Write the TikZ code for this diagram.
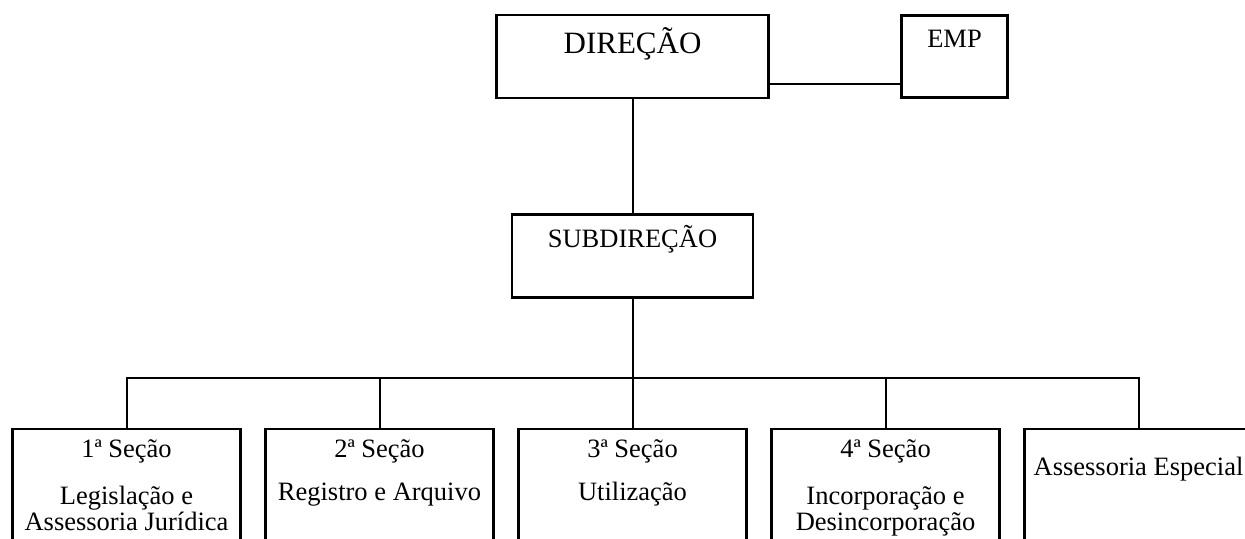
\documentclass[tikz,border=0pt]{standalone}
\usepackage{fontspec}
\setmainfont{Liberation Serif}
\usetikzlibrary{positioning,calc}
\tikzset{
block/.style = {draw, fill=white, rectangle, line width=1.35pt, minimum height=65pt, minimum width=114pt},
lbl/.style = {anchor=base, inner sep=0pt, font=\fontsize{13.25}{15}\selectfont},
big/.style = {lbl, font=\fontsize{15.5}{18}\selectfont},
conn/.style = {line width=1pt}
}
\begin{document}
\begin{tikzpicture}[auto, node distance=126.5pt]
\clip (0,0) rectangle (622.5pt,-269pt);
					\node[block, minimum width=136pt, minimum height=41.5pt] (dir) at (316.25pt,-28.25pt) {};
					\node[block, right of=dir, node distance=161pt, minimum width=53pt, minimum height=41pt] (emp) {};
					\node[block, below of=dir, node distance=99.75pt, minimum width=120.5pt, minimum height=41.5pt] (sub) {};
					\node[block, below of=sub, node distance=119pt] (s3) {};
					\node[block, left of=s3] (s2) {};
					\node[block, left of=s2] (s1) {};
					\node[block, right of=s3] (s4) {};
					\node[block, right of=s4] (s5) {};
					\draw[conn] (dir) -- (sub);
					\draw[conn] ([yshift=-13.75pt]dir.east) -- ([yshift=-13.75pt]emp.west);
					\draw[conn] (sub.south) -- ++(0,-39.75pt) coordinate (bus);
					\draw[conn] (s1.north) |- (bus) -| (s5.north);
					\draw[conn] (s2.north) -- (s2.north |- bus);
					\draw[conn] (s3.north) -- (s3.north |- bus);
					\draw[conn] (s4.north) -- (s4.north |- bus);
					\node[big] (dirlbl) at ([yshift=-20pt]dir.north) {DIREÇÃO};
					\node[lbl] (emplbl) at ([yshift=-16.75pt]emp.north) {EMP};
					\node[lbl] (sublbl) at ([yshift=-17.25pt]sub.north) {SUBDIREÇÃO};
					\node[lbl] (s1a) at ([yshift=-15pt]s1.north) {1ª Seção};
					\node[lbl] (s1b) at ([yshift=-38.35pt]s1.north) {Legislação e};
					\node[lbl] (s1c) at ([yshift=-51.35pt]s1.north) {Assessoria Jurídica};
					\node[lbl] (s2a) at ([yshift=-15pt]s2.north) {2ª Seção};
					\node[lbl] (s2b) at ([yshift=-36.35pt]s2.north) {Registro e Arquivo};
					\node[lbl] (s3a) at ([yshift=-15pt]s3.north) {3ª Seção};
					\node[lbl] (s3b) at ([yshift=-36.35pt]s3.north) {Utilização};
					\node[lbl] (s4a) at ([yshift=-15pt]s4.north) {4ª Seção};
					\node[lbl] (s4b) at ([yshift=-38.35pt]s4.north) {Incorporação e};
					\node[lbl] (s4c) at ([yshift=-51.35pt]s4.north) {Desincorporação};
					\node[lbl] (s5a) at ([yshift=-23.85pt]s5.north) {Assessoria Especial};
				\end{tikzpicture}
\end{document}
